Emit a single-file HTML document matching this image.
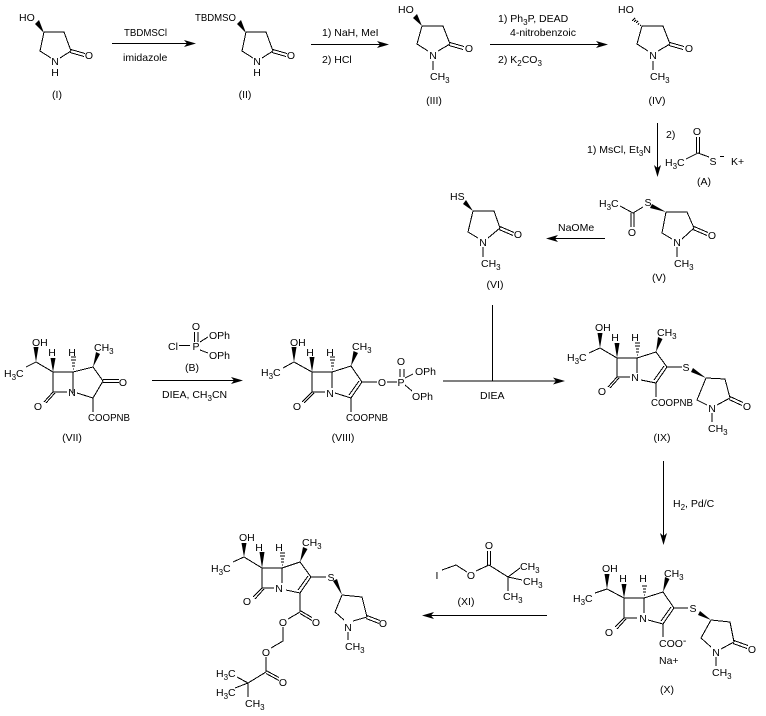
<!DOCTYPE html>
<html>
<head>
<meta charset="utf-8">
<style>
html,body{margin:0;padding:0;background:#fff;width:766px;height:716px;overflow:hidden}
svg{display:block}
text{font-family:"Liberation Sans",Arial,sans-serif;font-size:10.5px;fill:#000}
.m{text-anchor:middle}
.s{font-size:8px}
path.b{fill:none;stroke:#000;stroke-width:1;shape-rendering:crispEdges}
polygon{fill:#000;stroke:none}
</style>
</head>
<body>
<svg width="766" height="716" viewBox="0 0 766 716" xmlns="http://www.w3.org/2000/svg">
<rect width="766" height="716" fill="#fff"/>

<!-- I -->
<path class="b" d="M44 32H64L71 51M44 32L40 51L51 58M60 58L71 51M71 49.500L85 53.500M70 52.500L84 56.500"/>
<polygon points="44,33 35,24 39,20"/>
<text x="19" y="21">HO</text><text class="m" x="55" y="65">N</text><text class="m" x="55" y="76">H</text><text class="m" x="89" y="59">O</text>
<text class="m" x="57" y="98">(I)</text>

<!-- arrow 1 -->
<path class="b" d="M112 43.500H190"/><polygon points="196,43.500 184,40 187,43.500 184,47"/>
<text x="124" y="36" textLength="43" lengthAdjust="spacingAndGlyphs">TBDMSCl</text><text x="123" y="61">imidazole</text>

<!-- II -->
<g transform="translate(202,0)">
<path class="b" d="M44 32H64L71 51M44 32L40 51L51 58M60 58L71 51M71 49.500L85 53.500M70 52.500L84 56.500"/>
<polygon points="44,33 35,24 39,20"/>
<text class="m" x="55" y="65">N</text><text class="m" x="55" y="76">H</text><text class="m" x="89" y="59">O</text>
<text class="m" x="43" y="98">(II)</text>
</g>
<text x="195" y="21" textLength="41" lengthAdjust="spacingAndGlyphs">TBDMSO</text>

<!-- arrow 2 -->
<path class="b" d="M311 44.500H383"/><polygon points="389,44.500 377,41 380,44.500 377,48"/>
<text x="322" y="36">1) NaH, MeI</text><text x="322" y="63">2) HCl</text>

<!-- III -->
<path class="b" d="M422 26H443L450 44M422 26L417 44L428 51M438 51L450 44M450 42.500L464 46.500M449 45.500L463 49.500M433 61V70"/>
<polygon points="422,26 413,18 417,14"/>
<text x="398" y="13">HO</text><text class="m" x="433" y="59">N</text><text class="m" x="469" y="52">O</text>
<text x="430" y="80">CH<tspan class="s" dy="3">3</tspan></text>
<text class="m" x="434" y="104">(III)</text>

<!-- arrow 3 -->
<path class="b" d="M490 44.500H602"/><polygon points="608,44.500 596,41 599,44.500 596,48"/>
<text x="498" y="22">1) Ph<tspan class="s" dy="3">3</tspan><tspan dy="-3">P, DEAD</tspan></text>
<text x="510" y="36">4-nitrobenzoic</text>
<text x="498" y="63">2) K<tspan class="s" dy="3">2</tspan><tspan dy="-3">CO</tspan><tspan class="s" dy="3">3</tspan></text>

<!-- IV -->
<g transform="translate(220,0)">
<path class="b" d="M422 26H443L450 44M422 26L417 44L428 51M438 51L450 44M450 42.500L464 46.500M449 45.500L463 49.500M433 61V70"/>
<path class="b" d="M421 25L420 26M419 23L418 25M418 21L416 23M416 20L414 22M415 18L412 21"/>
<text x="398" y="13">HO</text><text class="m" x="433" y="59">N</text><text class="m" x="469" y="52">O</text>
<text x="430" y="80">CH<tspan class="s" dy="3">3</tspan></text>
<text class="m" x="437" y="104">(IV)</text>
</g>

<!-- arrow 4 -->
<path class="b" d="M657.500 123V171"/><polygon points="657.500,177 654,165 657.500,168 661,165"/>
<text x="666" y="138">2)</text>
<text x="587" y="153">1) MsCl, Et<tspan class="s" dy="3">3</tspan><tspan dy="-3">N</tspan></text>

<!-- A -->
<path class="b" d="M696.500 137V153M699.500 137V153M698 153L686 159M698 153L709 157"/>
<text class="m" x="697" y="135">O</text>
<text x="665" y="166">H<tspan class="s" dy="3">3</tspan><tspan dy="-3">C</tspan></text>
<text class="m" x="713" y="165">S</text>
<path class="b" d="M720 156.500H724"/>
<text x="731" y="165">K+</text>
<text class="m" x="704" y="185">(A)</text>

<!-- V -->
<path class="b" d="M620 206L633 213L643 207M631 213V227M634 213V227M666 212H687L694 228M666 212L662 233L672 239M682 239L694 228M694 226.500L708 232.500M693 229.500L707 235.500M677 247V257"/>
<polygon points="666,212 652,204 650,208"/>
<text x="599" y="207">H<tspan class="s" dy="3">3</tspan><tspan dy="-3">C</tspan></text>
<text class="m" x="648" y="206">S</text><text class="m" x="632" y="236">O</text><text class="m" x="677" y="246">N</text><text class="m" x="712" y="239">O</text>
<text x="674" y="267">CH<tspan class="s" dy="3">3</tspan></text>
<text class="m" x="659" y="281">(V)</text>

<!-- arrow NaOMe -->
<path class="b" d="M605 238.500H552"/><polygon points="546,238.500 558,235 555,238.500 558,242"/>
<text x="558" y="231">NaOMe</text>

<!-- VI -->
<path class="b" d="M473 211H494L500 228M473 211L468 232L478 238M488 238L500 228M500 226.500L514 232.500M499 229.500L513 235.500M483 247V257"/>
<polygon points="473,211 463,204 466,200"/>
<text x="450" y="200">HS</text><text class="m" x="483" y="246">N</text><text class="m" x="518" y="238">O</text>
<text x="481" y="267">CH<tspan class="s" dy="3">3</tspan></text>
<text class="m" x="495" y="288">(VI)</text>

<!-- VII -->
<path class="b" d="M26 367L36 362L53 372H73V393M53 372V392H67M53 392L44 402M55 393L46 403M77 393L93 398L103 381L93 367L73 372M103 379.500H119M103 382.500H119M93 398V412"/>
<polygon points="36,362 33.500,347 38.500,347"/>
<polygon points="53,372 50.500,358 55.500,358"/>
<polygon points="93,367 96,352 100,354"/>
<path class="b" d="M73 369H74M72 366H75M72 363H75M71 360H76M71 357H76"/>
<text x="32" y="346">OH</text><text class="m" x="52" y="356">H</text><text class="m" x="72" y="356">H</text>
<text x="4" y="377">H<tspan class="s" dy="3">3</tspan><tspan dy="-3">C</tspan></text>
<text x="94" y="351">CH<tspan class="s" dy="3">3</tspan></text>
<text class="m" x="72" y="396">N</text><text class="m" x="123" y="386">O</text><text class="m" x="38" y="410">O</text>
<text x="88" y="421" textLength="42" lengthAdjust="spacingAndGlyphs">COOPNB</text>
<text class="m" x="72" y="441">(VII)</text>

<!-- B -->
<path class="b" d="M194.500 332V342M198 332V342M179 345.500H190M200 342L208 337M200 350L208 353"/>
<text class="m" x="196" y="330">O</text><text class="m" x="196" y="350">P</text><text x="168" y="350">Cl</text>
<text x="209" y="339">OPh</text><text x="209" y="359">OPh</text>
<text class="m" x="192" y="371">(B)</text>

<!-- arrow VII -->
<path class="b" d="M152 380.500H237"/><polygon points="243,380.500 231,377 234,380.500 231,384"/>
<text x="162" y="398">DIEA, CH<tspan class="s" dy="3">3</tspan><tspan dy="-3">CN</tspan></text>

<!-- VIII -->
<path class="b" d="M283 368L294 362L312 372H332V388M312 372V392H325M312 392L302 402M314 393L304 403M335 393L351 398L362 382L351 366L332 372M359 381L349 395M351 398V412M362 382H377M387 382H397M400 369V377M404 369V377M405 378L413 374M405 385L412 391"/>
<polygon points="294,362 291.500,347 296.500,347"/>
<polygon points="312,372 309.500,357 314.500,357"/>
<polygon points="351,366 353.500,351 358,353"/>
<path class="b" d="M332 369H333M331 366H334M331 363H334M330 360H335M330 357H335"/>
<text x="290" y="346">OH</text><text class="m" x="310" y="356">H</text><text class="m" x="330" y="356">H</text>
<text x="261" y="376">H<tspan class="s" dy="3">3</tspan><tspan dy="-3">C</tspan></text>
<text x="352" y="350">CH<tspan class="s" dy="3">3</tspan></text>
<text class="m" x="330" y="397">N</text><text class="m" x="297" y="410">O</text>
<text x="346" y="421" textLength="42" lengthAdjust="spacingAndGlyphs">COOPNB</text>
<text class="m" x="382" y="386">O</text><text class="m" x="401" y="386">P</text><text class="m" x="401" y="365">O</text>
<text x="415" y="375">OPh</text><text x="412" y="400">OPh</text>
<text class="m" x="343" y="441">(VIII)</text>

<!-- central arrow -->
<path class="b" d="M492.500 305V381M443 381H558"/><polygon points="565,381 553,377.500 556,381 553,384.500"/>
<text x="480" y="399">DIEA</text>

<!-- IX -->
<path class="b" d="M589 353L600 348L617 358H637V373M617 358V377H630M617 377L608 387M619 378L610 388M641 380L656 383L667 367L656 352L637 358M664 366L654 380M656 383V397M667 367H682"/>
<path class="b" d="M706 378L725 379L730 398M706 378L697 400L707 405M717 405L730 398M730 396.500L743 402.500M729 399.500L742 405.500M712 413V422"/>
<polygon points="600,348 597.500,333 602.500,333"/>
<polygon points="617,358 614.500,343 619.500,343"/>
<polygon points="656,352 658,337 662.500,339"/>
<polygon points="706,378 691,372 693,368"/>
<path class="b" d="M637 355H638M636 352H639M636 349H639M635 346H640M635 343H640"/>
<text x="595" y="331">OH</text><text class="m" x="615" y="341">H</text><text class="m" x="635" y="341">H</text>
<text x="567" y="361">H<tspan class="s" dy="3">3</tspan><tspan dy="-3">C</tspan></text>
<text x="657" y="336">CH<tspan class="s" dy="3">3</tspan></text>
<text class="m" x="635" y="381">N</text><text class="m" x="602" y="395">O</text>
<text x="651" y="406" textLength="42" lengthAdjust="spacingAndGlyphs">COOPNB</text>
<text class="m" x="686" y="371">S</text><text class="m" x="712" y="412">N</text><text class="m" x="747" y="410">O</text>
<text x="708" y="432">CH<tspan class="s" dy="3">3</tspan></text>
<text class="m" x="662" y="441">(IX)</text>

<!-- arrow down -->
<path class="b" d="M663.500 461V538"/><polygon points="663.500,545 660,533 663.500,536 667,533"/>
<text x="673" y="507">H<tspan class="s" dy="3">2</tspan><tspan dy="-3">, Pd/C</tspan></text>

<!-- X -->
<path class="b" d="M595 593L607 589L624 598H644V613M624 598V618H637M624 618L615 627M626 619L617 629M648 620L663 624L674 608L663 592L644 598M671 607L661 621M663 624V637M674 608H688"/>
<path class="b" d="M711 620L730 622L734 642M711 620L701 638L711 647M721 649L734 642M734 640.500L748 645.500M733 643.500L747 648.500M716 657V666"/>
<polygon points="607,589 604.500,574 609.500,574"/>
<polygon points="624,598 621.500,584 626.500,584"/>
<polygon points="663,592 665,577 669.500,579"/>
<polygon points="711,620 698,615 700,611"/>
<path class="b" d="M644 595H645M643 592H646M643 589H646M642 586H647"/>
<text x="602" y="572">OH</text><text class="m" x="623" y="582">H</text><text class="m" x="643" y="582">H</text>
<text x="573" y="602">H<tspan class="s" dy="3">3</tspan><tspan dy="-3">C</tspan></text>
<text x="664" y="577">CH<tspan class="s" dy="3">3</tspan></text>
<text class="m" x="643" y="622">N</text><text class="m" x="609" y="636">O</text>
<text x="659" y="647">COO<tspan dy="-3">-</tspan></text>
<text x="659" y="664">Na+</text>
<text class="m" x="693" y="612">S</text><text class="m" x="716" y="656">N</text><text class="m" x="752" y="653">O</text>
<text x="712" y="676">CH<tspan class="s" dy="3">3</tspan></text>
<text class="m" x="667" y="693">(X)</text>

<!-- arrow left -->
<path class="b" d="M547 615.500H428"/><polygon points="422,615.500 434,612 431,615.500 434,619"/>

<!-- XI -->
<path class="b" d="M442 570L456 565L467 572M476 571L489 565M487.500 551V565M490.500 551V565M489 565L508 577L520 568M508 577L522 580M508 577V591"/>
<text class="m" x="437" y="579">I</text><text class="m" x="471" y="579">O</text><text class="m" x="489" y="549">O</text>
<text x="520" y="570">CH<tspan class="s" dy="3">3</tspan></text>
<text x="523" y="585">CH<tspan class="s" dy="3">3</tspan></text>
<text x="503" y="600">CH<tspan class="s" dy="3">3</tspan></text>
<text class="m" x="466" y="605">(XI)</text>

<!-- final product -->
<path class="b" d="M233 562L244 557L262 568H282V583M262 568V588H274M262 588L253 597M264 589L255 599M286 590L300 593L311 577L300 562L282 568M308 576L298 590M311 577H326"/>
<path class="b" d="M342 595L362 597L367 617M342 595L335 612L344 620M353 621L367 617M367 615.500L380 620.500M366 618.500L379 623.500M348 632V640"/>
<path class="b" d="M300 593V612M300 610.500L312 617.500M300 613.500L312 620.500M300 612L288 619M283 627V641L271 648M266 657V672M266 670.500L279 677.500M266 673.500L279 680.500M266 672L248 683L237 677M248 683L235 688M248 683V697"/>
<polygon points="244,557 241.500,543 246.500,543"/>
<polygon points="262,568 259.500,552 264.500,552"/>
<polygon points="300,562 303,547 307.500,549"/>
<polygon points="342,595 333,581 337,579"/>
<path class="b" d="M282 565H283M281 562H284M281 559H284M280 556H285M280 553H285"/>
<text x="239" y="541">OH</text><text class="m" x="259" y="551">H</text><text class="m" x="279" y="551">H</text>
<text x="211" y="572">H<tspan class="s" dy="3">3</tspan><tspan dy="-3">C</tspan></text>
<text x="302" y="546">CH<tspan class="s" dy="3">3</tspan></text>
<text class="m" x="279" y="592">N</text><text class="m" x="247" y="605">O</text>
<text class="m" x="331" y="581">S</text><text class="m" x="348" y="631">N</text><text class="m" x="383" y="627">O</text>
<text x="345" y="650">CH<tspan class="s" dy="3">3</tspan></text>
<text class="m" x="316" y="626">O</text><text class="m" x="283" y="626">O</text><text class="m" x="266" y="656">O</text><text class="m" x="283" y="686">O</text>
<text x="216" y="677">H<tspan class="s" dy="3">3</tspan><tspan dy="-3">C</tspan></text>
<text x="216" y="696">H<tspan class="s" dy="3">3</tspan><tspan dy="-3">C</tspan></text>
<text x="245" y="707">CH<tspan class="s" dy="3">3</tspan></text>
</svg>
</body>
</html>
